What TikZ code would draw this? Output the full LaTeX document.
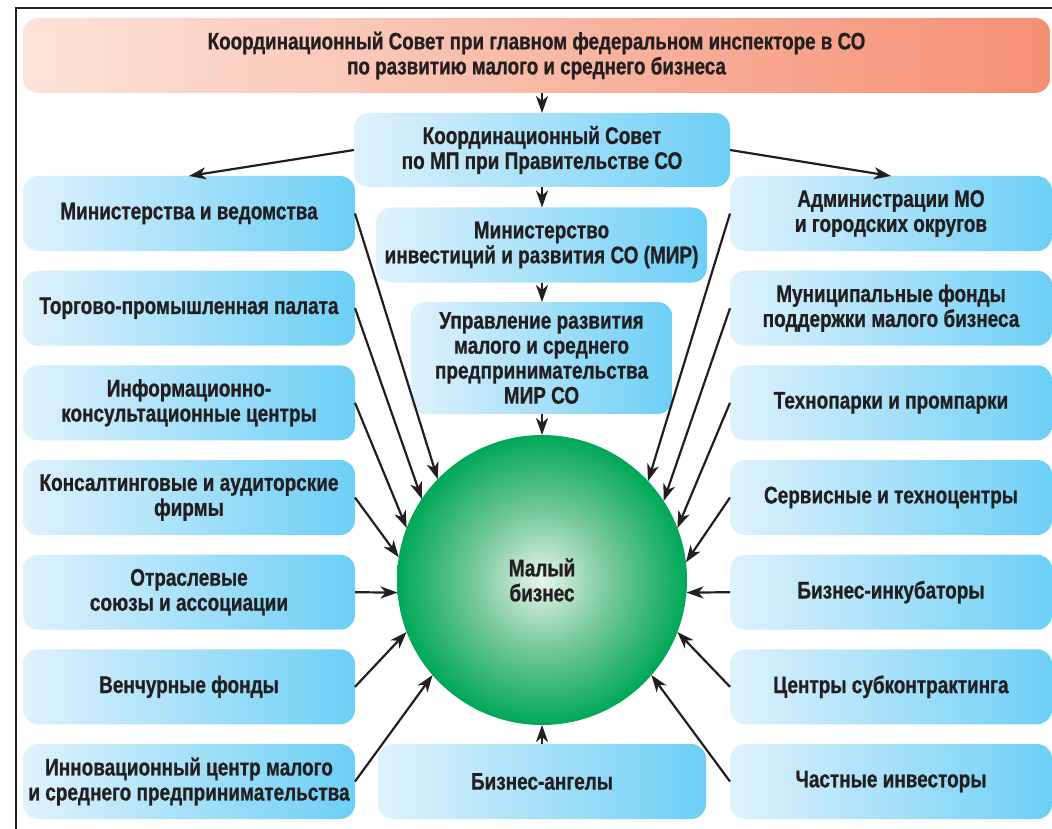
\documentclass[tikz,border=0pt]{standalone}
\usepackage{fontspec}
\setmainfont{Liberation Sans}[FakeStretch=0.79, BoldFeatures={FakeBold=0.8}]
\usetikzlibrary{arrows.meta}
\definecolor{bl1}{HTML}{DFF2FC}
\definecolor{bl2}{HTML}{6DCFF6}
\definecolor{or1}{HTML}{FCE3D9}
\definecolor{or2}{HTML}{F58F73}
\definecolor{gin}{HTML}{E6F5EC}
\definecolor{gmid}{HTML}{74C899}
\definecolor{gout}{HTML}{00A859}
\definecolor{txt}{HTML}{231F20}
\pgfdeclareradialshading{ballshade}{\pgfpoint{0bp}{0bp}}{color(0bp)=(gin); color(12bp)=(gmid); color(25bp)=(gout); color(50bp)=(gout)}
\begin{document}
\begin{tikzpicture}[x=1pt,y=-1pt,
  font=\bfseries\fontsize{24}{25}\selectfont,
  box/.style={rounded corners=15pt, left color=bl1, right color=bl2, draw=none,
    minimum height=75pt, inner sep=0pt, outer sep=0pt, text=txt, align=center},
  topbox/.style={box, left color=or1, right color=or2, font=\bfseries\fontsize{23.8}{25}\selectfont},
  arr/.style={line width=2.2pt, draw=txt, -{Stealth[length=17pt,width=12pt,inset=5pt]}},
  frame/.style={line width=1.6pt, draw=txt}]
\useasboundingbox (0,0) rectangle (1052,829);
\draw[frame] (16,829) -- (16,8) -- (1052,8);

\node[topbox, minimum width=1027pt] (top) at (536.5,55.5) {Координационный Совет при главном федеральном инспекторе в СО\\по развитию малого и среднего бизнеса};
\node[box, minimum width=376pt, minimum height=74pt] (cc) at (542,150) {Координационный Совет\\по МП при Правительстве СО};
\node[box, minimum width=331pt] (mir) at (541.5,245) {Министерство\\инвестиций и развития СО (МИР)};
\node[box, minimum width=262pt, minimum height=112pt] (upr) at (541.5,358) {Управление развития\\малого и среднего\\предпринимательства\\МИР СО};

\node[box, minimum width=332pt] (L1) at (189,213.5) {Министерства и ведомства};
\node[box, minimum width=332pt] (L2) at (189,308.2) {Торгово-промышленная палата};
\node[box, minimum width=332pt] (L3) at (189,402.8) {Информационно-\\консультационные центры};
\node[box, minimum width=332pt] (L4) at (189,497.5) {Консалтинговые и аудиторские\\фирмы};
\node[box, minimum width=332pt] (L5) at (189,592.2) {Отраслевые\\союзы и ассоциации};
\node[box, minimum width=332pt] (L6) at (189,686.8) {Венчурные фонды};
\node[box, minimum width=332pt] (L7) at (189,781.5) {Инновационный центр малого\\и среднего предпринимательства};

\node[box, minimum width=322pt] (R1) at (891,213.5) {Администрации МО\\и городских округов};
\node[box, minimum width=322pt] (R2) at (891,308.2) {Муниципальные фонды\\поддержки малого бизнеса};
\node[box, minimum width=322pt] (R3) at (891,402.8) {Технопарки и промпарки};
\node[box, minimum width=322pt] (R4) at (891,497.5) {Сервисные и техноцентры};
\node[box, minimum width=322pt] (R5) at (891,592.2) {Бизнес-инкубаторы};
\node[box, minimum width=322pt] (R6) at (891,686.8) {Центры субконтрактинга};
\node[box, minimum width=322pt] (R7) at (891,781.5) {Частные инвесторы};

\node[box, minimum width=328pt] (ba) at (542,781.5) {Бизнес-ангелы};

\node[circle, shading=ballshade, minimum size=290pt, inner sep=0pt, outer sep=0pt,
  text=txt, align=center] (ball) at (542,580) {Малый\\бизнес};

\draw[arr] (cc.north |- top.south) -- (cc.north);
\draw[arr] (cc.south) -- (cc.south |- mir.north);
\draw[arr] (mir.south -| cc.south) -- (upr.north -| cc.south);
\draw[arr] (upr.south -| cc.south) -- (ball.north);
\draw[arr] (ba.north) -- (ball.south);
\draw[arr] (cc.west) -- (L1.north);
\draw[arr] (cc.east) -- (R1.north);

\draw[arr] (L1.east) -- (ball.136.6);
\draw[arr] (L2.east) -- (ball.146.5);
\draw[arr] (L3.east) -- (ball.159.5);
\draw[arr] (L4.east) -- (ball.171);
\draw[arr] (L5.east) -- (ball.185);
\draw[arr] (L6.east) -- (ball.201);
\draw[arr] (L7.east) -- (ball.221);

\draw[arr] (R1.west) -- (ball.43);
\draw[arr] (R2.west) -- (ball.33);
\draw[arr] (R3.west) -- (ball.21);
\draw[arr] (R4.west) -- (ball.7);
\draw[arr] (R5.west) -- (ball.-5);
\draw[arr] (R6.west) -- (ball.-21);
\draw[arr] (R7.west) -- (ball.-41);
\end{tikzpicture}
\end{document}
